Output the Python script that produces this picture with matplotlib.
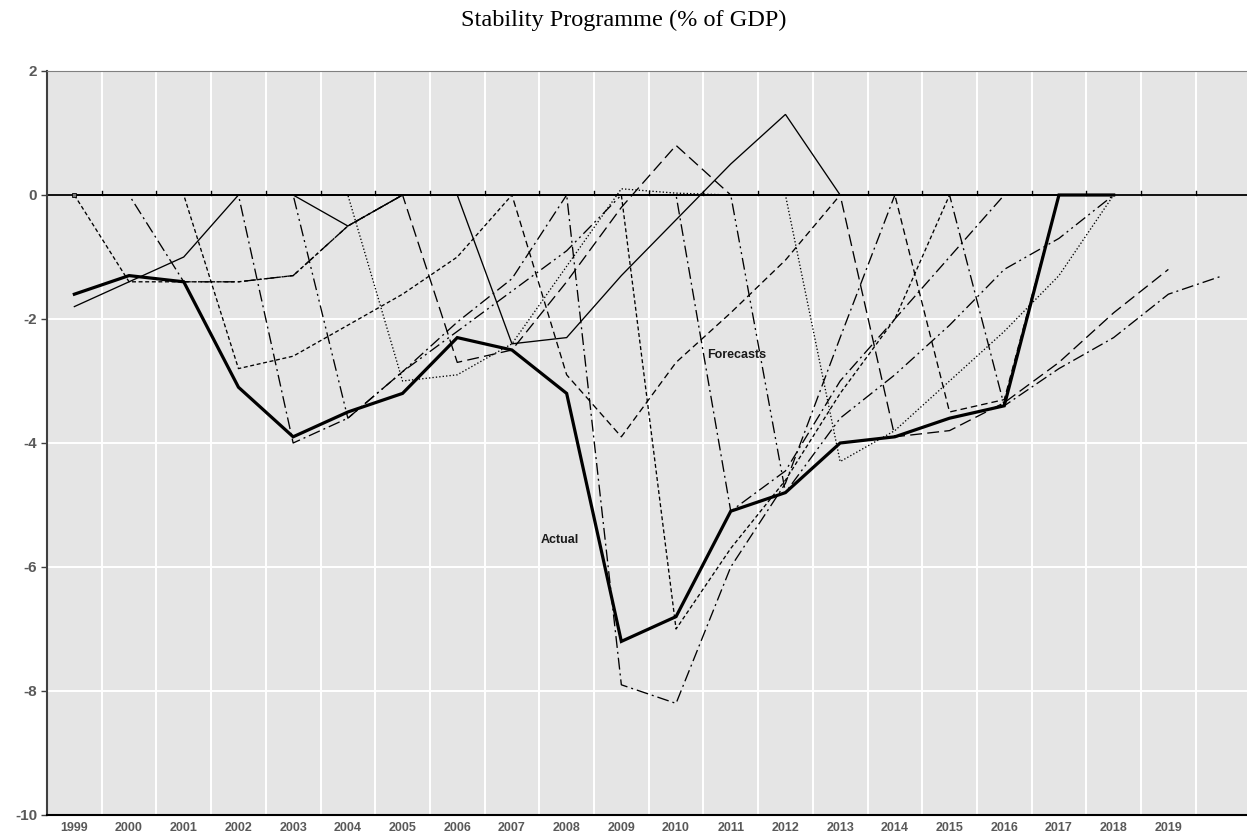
import matplotlib
matplotlib.use("Agg")
import matplotlib.pyplot as plt
import numpy as np

plt.rcParams["axes.unicode_minus"] = False

# years on the category axis (2020 carries no label)
years = list(range(1999, 2021))
tick_labels = [str(y) for y in range(1999, 2020)] + [""]

N = None
# outturn
actual = [-1.6, -1.3, -1.4, -3.1, -3.9, -3.5, -3.2, -2.3, -2.5, -3.2,
          -7.2, -6.8, -5.1, -4.8, -4.0, -3.9, -3.6, -3.4, 0, 0, N, N]

# programme vintages (blank years are plotted as zero, as in the source sheet)
sp_1999a = [-1.8, -1.4, -1.0, 0, 0, -0.5, 0, 0, 0, 0, 0, 0, 0, 0, 0, 0, 0, 0, 0, 0, N, N]
sp_1999b = [0, -1.4, -1.4, -1.4, -1.3, -0.5, 0, 0, 0, 0, 0, 0, 0, 0, 0, 0, 0, 0, 0, 0, N, N]
sp_2000 = [0, 0, -1.4, -1.4, -1.3, -0.5, 0, 0, 0, 0, 0, 0, 0, 0, 0, 0, 0, 0, 0, 0, N, N]
sp_2001 = [0, 0, 0, -2.8, -2.6, -2.1, -1.6, -1.0, 0, 0, 0, 0, 0, 0, 0, 0, 0, 0, 0, 0, N, N]
sp_2002 = [0, 0, 0, 0, -4.0, -3.6, -2.85, -2.05, -1.35, 0, 0, 0, 0, 0, 0, 0, 0, 0, 0, 0, N, N]
sp_2003 = [0, 0, 0, 0, 0, -3.6, -2.85, -2.2, -1.55, -0.9, 0, 0, 0, 0, 0, 0, 0, 0, 0, 0, N, N]
sp_2004 = [0, 0, 0, 0, 0, 0, -3.0, -2.9, -2.4, -1.15, 0.1, 0.03, 0, 0, 0, 0, 0, 0, 0, 0, N, N]
sp_2005 = [0, 0, 0, 0, 0, 0, 0, -2.7, -2.5, -1.4, -0.2, 0.8, 0, 0, 0, 0, 0, 0, 0, 0, N, N]
sp_2006 = [0, 0, 0, 0, 0, 0, 0, 0, -2.4, -2.3, -1.3, -0.4, 0.5, 1.3, 0, 0, 0, 0, 0, 0, N, N]
sp_2007 = [0, 0, 0, 0, 0, 0, 0, 0, 0, -2.9, -3.9, -2.7, -1.9, -1.05, 0, 0, 0, 0, 0, 0, N, N]
sp_2008 = [0, 0, 0, 0, 0, 0, 0, 0, 0, 0, -7.9, -8.2, -6.0, -4.65, -2.3, 0, 0, 0, 0, 0, N, N]
sp_2009 = [0, 0, 0, 0, 0, 0, 0, 0, 0, 0, 0, -7.0, -5.7, -4.6, -3.2, -2.0, 0, 0, 0, 0, N, N]
sp_2010 = [0, 0, 0, 0, 0, 0, 0, 0, 0, 0, 0, 0, -5.1, -4.45, -3.0, -2.0, -1.0, 0, 0, 0, N, N]
sp_2011 = [0, 0, 0, 0, 0, 0, 0, 0, 0, 0, 0, 0, 0, -4.8, -3.6, -2.9, -2.1, -1.2, -0.7, 0, N, N]
sp_2012 = [0, 0, 0, 0, 0, 0, 0, 0, 0, 0, 0, 0, 0, 0, -4.3, -3.8, -3.0, -2.2, -1.3, 0, N, N]
sp_2013 = [0, 0, 0, 0, 0, 0, 0, 0, 0, 0, 0, 0, 0, 0, 0, -3.9, -3.8, -3.35, -2.7, -1.9, -1.2, N]
sp_2014 = [0, 0, 0, 0, 0, 0, 0, 0, 0, 0, 0, 0, 0, 0, 0, 0, -3.5, -3.3, 0, 0, N, N]
sp_2015 = [0, 0, 0, 0, 0, 0, 0, 0, 0, 0, 0, 0, 0, 0, 0, 0, 0, -3.4, -2.8, -2.3, -1.6, -1.3]

SOLID = "-"
SHORT = (0, (3, 2))
MEDIUM = (0, (5, 3))
LONG = (0, (9, 4))
DASHDOT = (0, (9, 3, 1.5, 3))
DASHDOTDOT = (0, (9, 3, 1.5, 3, 1.5, 3))
DOT = (0, (1, 1.6))

vintages = [
    (sp_1999a, SOLID), (sp_1999b, SHORT), (sp_2000, DASHDOT),
    (sp_2001, SHORT), (sp_2002, DASHDOT), (sp_2003, DASHDOTDOT),
    (sp_2004, DOT), (sp_2005, LONG), (sp_2006, SOLID), (sp_2007, MEDIUM),
    (sp_2008, DASHDOT), (sp_2009, SHORT), (sp_2010, DASHDOT),
    (sp_2011, DASHDOTDOT), (sp_2012, DOT), (sp_2013, LONG),
    (sp_2014, MEDIUM), (sp_2015, DASHDOT),
]


def _arr(vals):
    return np.array([np.nan if v is None else v for v in vals], dtype=float)


fig = plt.figure(figsize=(12.47, 8.35), dpi=100)
ax = fig.add_axes([47 / 1247, 1 - 815 / 835, 1 - 47 / 1247, (815 - 71) / 835])
ax.set_facecolor("#e5e5e5")

x = np.array(years, dtype=float)
for vals, ls in vintages:
    ax.plot(x, _arr(vals), color="black", linestyle=ls, linewidth=0.95,
            solid_joinstyle="miter", zorder=3)
ax.plot(x, _arr(actual), color="black", linewidth=2.3, zorder=4,
        solid_joinstyle="miter")
ax.plot([1999], [0], marker="s", markersize=3.5, color="#777777",
        markeredgecolor="black", markeredgewidth=0.6, zorder=5)

# grid
for yv in [-8, -6, -4, -2]:
    ax.axhline(yv, color="white", linewidth=1.4, zorder=1)
for xv in np.arange(1999.5, 2020.5, 1.0):
    ax.axvline(xv, color="white", linewidth=1.4, zorder=1)

# category axis crossing at zero
ax.axhline(0, color="black", linewidth=1.3, zorder=2)
for xv in np.arange(1999.5, 2020.5, 1.0):
    ax.plot([xv, xv], [0, 0.07], color="black", linewidth=1.0, zorder=2)

ax.set_xlim(1998.5, 1998.5 + (1247 - 47) / 54.7)
ax.set_ylim(-10, 2)
ax.set_xticks(years)
ax.set_xticklabels(tick_labels)
ax.set_yticks(range(-10, 3, 2))
ax.tick_params(axis="x", length=0, pad=5)
ax.tick_params(axis="y", length=4, width=1, color="#404040", direction="out", pad=3)

tick_font = dict(family=["Liberation Sans", "DejaVu Sans"], weight="bold")
for lab in ax.get_xticklabels():
    lab.set(color="#595959", fontsize=9, **tick_font)
for lab in ax.get_yticklabels():
    lab.set(color="#595959", fontsize=11, **tick_font)

ax.spines["right"].set_visible(False)
ax.spines["top"].set_color("#808080")
ax.spines["left"].set_color("#404040")
ax.spines["left"].set_linewidth(1.5)
ax.spines["bottom"].set_color("black")
ax.spines["bottom"].set_linewidth(1.5)

label_font = dict(family=["Liberation Sans", "DejaVu Sans"], weight="bold",
                  fontsize=9, color="#1a1a1a", zorder=6)
ax.text(2011.1, -2.58, "Forecasts", ha="center", va="center", **label_font)
ax.text(2007.88, -5.56, "Actual", ha="center", va="center", **label_font)

fig.text(624 / 1247, 1 - 20 / 835, "Stability Programme (% of GDP)",
         ha="center", va="center", fontsize=17.5,
         family=["Liberation Serif", "DejaVu Serif"])

fig.savefig("out.png", dpi=100)
plt.close(fig)
